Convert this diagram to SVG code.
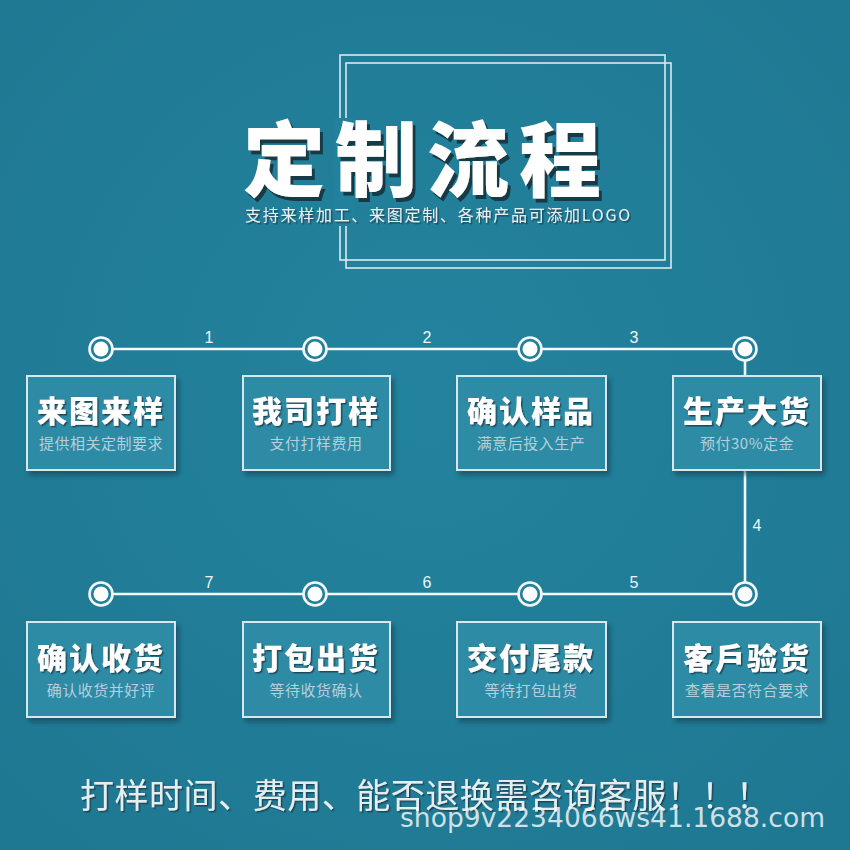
<svg xmlns="http://www.w3.org/2000/svg" width="850" height="850" viewBox="0 0 850 850">
<defs>
<filter id="sh" x="-10%" y="-10%" width="130%" height="130%">
<feDropShadow dx="3" dy="4" stdDeviation="2.5" flood-color="#0b3442" flood-opacity="0.55"/>
</filter>
<filter id="tsh" x="-10%" y="-10%" width="130%" height="130%">
<feDropShadow dx="1.5" dy="1.5" stdDeviation="0.6" flood-color="#123a48" flood-opacity="0.8"/>
</filter>
<filter id="hard" x="-5%" y="-10%" width="115%" height="130%">
<feOffset in="SourceAlpha" dx="3" dy="4" result="o"/>
<feFlood flood-color="#173a46"/>
<feComposite in2="o" operator="in" result="s"/>
<feMerge><feMergeNode in="s"/><feMergeNode in="SourceGraphic"/></feMerge>
</filter>
<radialGradient id="bg" cx="50%" cy="45%" r="70%">
<stop offset="0" stop-color="#23839e"/>
<stop offset="1" stop-color="#1f7892"/>
</radialGradient>
</defs>
<style>
.frame{fill:none;stroke:#dbe9ee;stroke-width:1.6}
.line{stroke:#f4f8fa;stroke-width:2.6;fill:none}
.ring{fill:#22809b;stroke:#f4f8fa;stroke-width:2.6}
.dot{fill:#ffffff}
.num{font-family:"Liberation Sans","DejaVu Sans",sans-serif;font-size:16px;fill:#f0f5f7;text-anchor:middle}
.box{fill:#2f8ba5;stroke:#d6e7ed;stroke-width:2}
.bt{font-family:"Noto Sans CJK SC",sans-serif;font-weight:900;font-size:30px;fill:#ffffff;text-anchor:middle;letter-spacing:2px}
.bs{font-family:"Noto Sans CJK SC",sans-serif;font-size:15px;fill:#b5d0da;text-anchor:middle;letter-spacing:0.5px}
</style>
<rect width="850" height="850" fill="url(#bg)"/>

<g id="title-frame">
<rect class="frame" x="340" y="55" width="325" height="205"/>
<rect class="frame" x="346" y="63" width="325" height="205"/>
<rect x="334" y="118" width="20" height="108" fill="#22819c"/>
</g>

<g id="title">
<text x="243" y="190" font-family="Noto Sans CJK SC,sans-serif" font-weight="900" font-size="82" fill="#ffffff" letter-spacing="10" filter="url(#hard)">定制流程</text>
<text x="245" y="221" font-family="Noto Sans CJK SC,sans-serif" font-size="16" fill="#e6eff2" textLength="385" lengthAdjust="spacing" filter="url(#tsh)">支持来样加工、来图定制、各种产品可添加LOGO</text>
</g>

<g id="connectors">
<line class="line" x1="101" y1="349" x2="745" y2="349"/>
<line class="line" x1="745" y1="349" x2="745" y2="594"/>
<line class="line" x1="101" y1="594" x2="745" y2="594"/>
<g>
<circle class="ring" cx="101" cy="349" r="11.5"/><circle class="dot" cx="101" cy="349" r="7.5"/>
<circle class="ring" cx="315" cy="349" r="11.5"/><circle class="dot" cx="315" cy="349" r="7.5"/>
<circle class="ring" cx="530" cy="349" r="11.5"/><circle class="dot" cx="530" cy="349" r="7.5"/>
<circle class="ring" cx="745" cy="349" r="11.5"/><circle class="dot" cx="745" cy="349" r="7.5"/>
<circle class="ring" cx="101" cy="594" r="11.5"/><circle class="dot" cx="101" cy="594" r="7.5"/>
<circle class="ring" cx="315" cy="594" r="11.5"/><circle class="dot" cx="315" cy="594" r="7.5"/>
<circle class="ring" cx="530" cy="594" r="11.5"/><circle class="dot" cx="530" cy="594" r="7.5"/>
<circle class="ring" cx="745" cy="594" r="11.5"/><circle class="dot" cx="745" cy="594" r="7.5"/>
</g>
<text class="num" x="209" y="343">1</text>
<text class="num" x="427" y="343">2</text>
<text class="num" x="634" y="343">3</text>
<text class="num" x="757" y="531">4</text>
<text class="num" x="634" y="588">5</text>
<text class="num" x="427" y="588">6</text>
<text class="num" x="209" y="588">7</text>
</g>

<g id="n1">
<rect class="box" x="27" y="376" width="148" height="94" filter="url(#sh)"/>
<text class="bt" x="101" y="422" filter="url(#tsh)">来图来样</text>
<text class="bs" x="101" y="449">提供相关定制要求</text>
</g>
<g id="n2">
<rect class="box" x="243" y="376" width="147" height="94" filter="url(#sh)"/>
<text class="bt" x="316" y="422" filter="url(#tsh)">我司打样</text>
<text class="bs" x="316" y="449">支付打样费用</text>
</g>
<g id="n3">
<rect class="box" x="457" y="376" width="149" height="94" filter="url(#sh)"/>
<text class="bt" x="531" y="422" filter="url(#tsh)">确认样品</text>
<text class="bs" x="531" y="449">满意后投入生产</text>
</g>
<g id="n4">
<rect class="box" x="673" y="376" width="148" height="94" filter="url(#sh)"/>
<text class="bt" x="747" y="422" filter="url(#tsh)">生产大货</text>
<text class="bs" x="747" y="449">预付30%定金</text>
</g>

<g id="n5">
<rect class="box" x="673" y="622" width="148" height="95" filter="url(#sh)"/>
<text class="bt" x="747" y="669" filter="url(#tsh)">客戶验货</text>
<text class="bs" x="747" y="696">查看是否符合要求</text>
</g>
<g id="n6">
<rect class="box" x="457" y="622" width="149" height="95" filter="url(#sh)"/>
<text class="bt" x="531" y="669" filter="url(#tsh)">交付尾款</text>
<text class="bs" x="531" y="696">等待打包出货</text>
</g>
<g id="n7">
<rect class="box" x="243" y="622" width="147" height="95" filter="url(#sh)"/>
<text class="bt" x="316" y="669" filter="url(#tsh)">打包出货</text>
<text class="bs" x="316" y="696">等待收货确认</text>
</g>
<g id="n8">
<rect class="box" x="27" y="622" width="148" height="95" filter="url(#sh)"/>
<text class="bt" x="101" y="669" filter="url(#tsh)">确认收货</text>
<text class="bs" x="101" y="696">确认收货并好评</text>
</g>

<g id="footer">
<text x="80" y="808" font-family="Noto Sans CJK SC,sans-serif" font-size="34" fill="#e4eef1" textLength="690" lengthAdjust="spacing" filter="url(#tsh)">打样时间、费用、能否退换需咨询客服！！！</text>
<text x="400" y="827" font-family="DejaVu Sans,sans-serif" font-size="26" fill="#ffffff" fill-opacity="0.78" textLength="425" lengthAdjust="spacingAndGlyphs">shop9v2234066ws41.1688.com</text>
</g>
</svg>
